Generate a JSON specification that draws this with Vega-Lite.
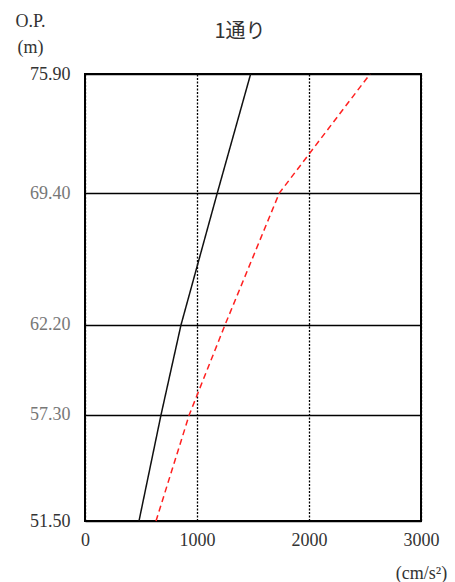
{
  "$schema": "https://vega.github.io/schema/vega-lite/v6.json",
  "width": 336,
  "height": 447,
  "autosize": {"type": "none"},
  "padding": {"left": 85, "top": 74, "right": 34, "bottom": 61},
  "background": "white",
  "title": {
    "text": "1通り",
    "font": "Noto Sans CJK JP",
    "fontSize": 20,
    "fontWeight": "normal",
    "color": "#333",
    "anchor": "middle",
    "frame": "group",
    "dx": -13,
    "dy": 30,
    "offset": 0
  },
  "config": {
    "view": {"stroke": "black", "strokeWidth": 2},
    "axis": {"labelFont": "Liberation Serif", "titleFont": "Liberation Serif"}
  },
  "data": {
    "values": [
      {"op": 51.5, "acc": 482, "series": "a"},
      {"op": 57.3, "acc": 679, "series": "a"},
      {"op": 62.2, "acc": 857, "series": "a"},
      {"op": 69.4, "acc": 1181, "series": "a"},
      {"op": 75.9, "acc": 1479, "series": "a"},
      {"op": 51.5, "acc": 634, "series": "b"},
      {"op": 57.3, "acc": 931, "series": "b"},
      {"op": 62.2, "acc": 1250, "series": "b"},
      {"op": 69.4, "acc": 1735, "series": "b"},
      {"op": 75.9, "acc": 2545, "series": "b"}
    ]
  },
  "mark": {"type": "line", "strokeWidth": 1.5},
  "encoding": {
    "x": {
      "field": "acc",
      "type": "quantitative",
      "scale": {"domain": [0, 3000], "nice": false, "zero": false},
      "axis": {
        "values": [0, 1000, 2000, 3000],
        "format": "d",
        "domain": false,
        "ticks": false,
        "labelPadding": 10,
        "labelFontSize": 18,
        "labelColor": "#333",
        "labelFlush": false,
        "grid": true,
        "gridColor": "black",
        "gridDash": [2, 1.5],
        "gridWidth": 1.3,
        "title": "(cm/s²)",
        "titleFontSize": 18,
        "titleFontWeight": "normal",
        "titleColor": "#333",
        "titleAlign": "center",
        "titleBaseline": "alphabetic",
        "titleX": 336,
        "titleY": 57
      }
    },
    "y": {
      "field": "op",
      "type": "quantitative",
      "scale": {"domain": [51.5, 75.9], "nice": false, "zero": false},
      "axis": {
        "values": [51.5, 57.3, 62.2, 69.4, 75.9],
        "format": ".2f",
        "domain": false,
        "ticks": false,
        "labelPadding": 15,
        "labelFontSize": 18,
        "labelColor": {"condition": {"test": "datum.value == 75.9 || datum.value == 51.5", "value": "#333"}, "value": "#777"},
        "labelFlush": false,
        "grid": true,
        "gridColor": "black",
        "gridWidth": 1.5,
        "title": ["O.P.", "(m)"],
        "titleFontSize": 18,
        "titleFontWeight": "normal",
        "titleColor": "#333",
        "titleAngle": 0,
        "titleAlign": "center",
        "titleBaseline": "alphabetic",
        "titleLineHeight": 26,
        "titleX": -55,
        "titleY": -48
      }
    },
    "order": {"field": "op", "type": "quantitative"},
    "color": {
      "field": "series",
      "type": "nominal",
      "scale": {"domain": ["a", "b"], "range": ["#111111", "#ff2020"]},
      "legend": null
    },
    "strokeDash": {
      "field": "series",
      "type": "nominal",
      "scale": {"domain": ["a", "b"], "range": [[1, 0], [6, 4]]},
      "legend": null
    }
  }
}
